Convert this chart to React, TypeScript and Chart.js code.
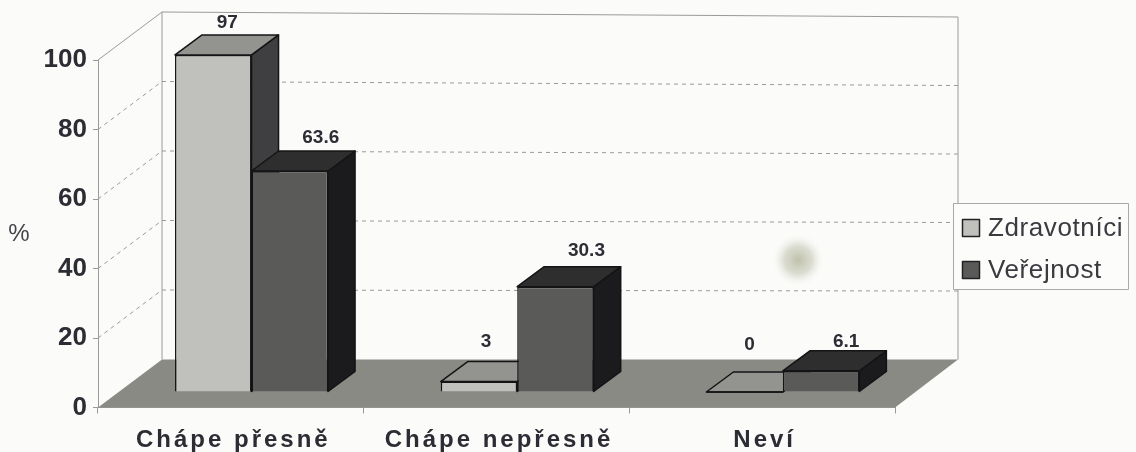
import React, { useEffect, useRef } from "react";
import { Chart, registerables } from "chart.js";

Chart.register(...registerables);

const categories = ["Chápe přesně", "Chápe nepřesně", "Neví"];
const zdravotnici = [97, 3, 0];
const verejnost = [63.6, 30.3, 6.1];
const seriesNames = ["Zdravotníci", "Veřejnost"];
const axisTitle = "%";

const PAGE_BG = "#fbfbf9";
const INK = "#2c2c34";
const WALL_LINE = "#9a9a98";
const FLOOR = "#8a8a85";
const EDGE = "#141416";

// Face shades for each series: front, top, side.
const shades = [
  { front: "#c0c0bc", top: "#93938f", side: "#3f3f42" },
  { front: "#5a5a58", top: "#2e2e2e", side: "#1b1b1d" },
];

// Depth of the plot box and of a single bar, and how far bars stand in from the front edge of the floor.
const BOX_DX = 64;
const BOX_DY = -48;
const BAR_DX = 27;
const BAR_DY = -20;
const BAR_SHIFT_X = 20.7;
const BAR_SHIFT_Y = -15.5;

// Per-label placement above each bar, relative to the bar's front-top centre.
const labelNudge = [
  [[14, -32], [7, -40], [5, -47]],
  [[31, -33], [31, -36], [25, -29]],
];

function poly(ctx: CanvasRenderingContext2D, pts: number[][], fill: string, stroke?: string) {
  ctx.beginPath();
  pts.forEach(([x, y], i) => (i ? ctx.lineTo(x, y) : ctx.moveTo(x, y)));
  ctx.closePath();
  ctx.fillStyle = fill;
  ctx.fill();
  if (stroke) {
    ctx.strokeStyle = stroke;
    ctx.lineWidth = 1.5;
    ctx.lineJoin = "round";
    ctx.stroke();
  }
}

function drawBox(chart: any) {
  const { ctx, chartArea: a, scales } = chart;
  const y = scales.y;
  const backL = a.left + BOX_DX;
  const backR = a.right + BOX_DX - 1;
  const tilt = (v: number) => (v / 100) * 5;

  ctx.save();
  ctx.strokeStyle = WALL_LINE;
  ctx.lineWidth = 1;
  ctx.setLineDash([]);
  ctx.beginPath();
  ctx.moveTo(a.left, y.getPixelForValue(100));
  ctx.lineTo(backL, y.getPixelForValue(100) + BOX_DY);
  ctx.lineTo(backR, y.getPixelForValue(100) + BOX_DY + tilt(100));
  ctx.lineTo(backR, y.getPixelForValue(0) + BOX_DY);
  ctx.moveTo(backL, y.getPixelForValue(100) + BOX_DY);
  ctx.lineTo(backL, y.getPixelForValue(0) + BOX_DY);
  ctx.stroke();

  ctx.setLineDash([4, 4]);
  for (const t of y.ticks) {
    if (t.value === 0 || t.value === 100) continue;
    const py = y.getPixelForValue(t.value);
    ctx.beginPath();
    ctx.moveTo(a.left, py);
    ctx.lineTo(backL, py + BOX_DY);
    ctx.lineTo(backR, py + BOX_DY + tilt(t.value));
    ctx.stroke();
  }
  ctx.setLineDash([]);

  const y0 = y.getPixelForValue(0);
  poly(ctx, [[a.left, y0], [backL, y0 + BOX_DY], [backR, y0 + BOX_DY], [a.right, y0]], FLOOR);
  ctx.restore();
}

function drawBars(chart: any) {
  const { ctx } = chart;
  chart.data.datasets.forEach((_: any, di: number) => {
    const meta = chart.getDatasetMeta(di);
    const shade = shades[di];
    meta.data.forEach((bar: any) => {
      const l = bar.x - bar.width / 2 + BAR_SHIFT_X;
      const r = bar.x + bar.width / 2 + BAR_SHIFT_X;
      const t = bar.y + BAR_SHIFT_Y;
      const b = bar.base + BAR_SHIFT_Y;
      poly(ctx, [[r, t], [r + BAR_DX, t + BAR_DY], [r + BAR_DX, b + BAR_DY], [r, b]], shade.side, EDGE);
      poly(ctx, [[l, t], [l + BAR_DX, t + BAR_DY], [r + BAR_DX, t + BAR_DY], [r, t]], shade.top, EDGE);
      if (b - t < 1) {
        ctx.strokeStyle = EDGE;
        ctx.lineWidth = 1.5;
        ctx.beginPath();
        ctx.moveTo(l, b);
        ctx.lineTo(r, b);
        ctx.stroke();
      }
    });
    // The front faces come from the bar controller, moved onto the raised floor position.
    ctx.save();
    ctx.translate(BAR_SHIFT_X, BAR_SHIFT_Y);
    meta.controller.draw();
    ctx.restore();
  });
}

function drawValueLabels(chart: any) {
  const { ctx } = chart;
  ctx.save();
  ctx.font = 'bold 19px "Liberation Sans"';
  ctx.fillStyle = INK;
  ctx.textAlign = "center";
  ctx.textBaseline = "middle";
  chart.data.datasets.forEach((ds: any, di: number) => {
    chart.getDatasetMeta(di).data.forEach((bar: any, i: number) => {
      const [nx, ny] = labelNudge[di][i];
      const px = bar.x + BAR_SHIFT_X + nx;
      const py = bar.y + BAR_SHIFT_Y + ny;
      ctx.fillText(String(ds.data[i]), px, py);
    });
  });
  ctx.restore();
}

function drawCategoryLabels(chart: any) {
  const { ctx, scales } = chart;
  const x = scales.x;
  ctx.save();
  ctx.font = 'bold 24px "Liberation Sans"';
  (ctx as any).letterSpacing = "3px";
  ctx.fillStyle = INK;
  ctx.textAlign = "center";
  ctx.textBaseline = "alphabetic";
  x.ticks.forEach((_: any, i: number) => {
    ctx.fillText(x.getLabelForValue(i), x.getPixelForTick(i) + 2.5, x.top + 39.5);
  });
  ctx.restore();
}

function drawLegend(chart: any) {
  const { ctx } = chart;
  ctx.save();
  ctx.fillStyle = "#fcfcfa";
  ctx.fillRect(953, 203, 176, 87);
  ctx.strokeStyle = "#a9a9a6";
  ctx.lineWidth = 1;
  ctx.strokeRect(953.5, 203.5, 175, 86);
  ctx.font = '26px "Liberation Sans"';
  (ctx as any).letterSpacing = "0.6px";
  ctx.textBaseline = "alphabetic";
  chart.data.datasets.forEach((ds: any, i: number) => {
    const top = 219 + i * 42;
    ctx.fillStyle = shades[i].front;
    ctx.fillRect(962.5, top + 0.5, 17, 17);
    ctx.strokeStyle = "#222226";
    ctx.lineWidth = 1.5;
    ctx.strokeRect(962.5, top + 0.5, 17, 17);
    ctx.fillStyle = "#3a3a40";
    ctx.fillText(ds.label, 988, top + 17);
  });
  ctx.restore();
}

function drawAxisTitle(chart: any) {
  const { ctx } = chart;
  ctx.save();
  ctx.font = '24px "Liberation Sans"';
  ctx.fillStyle = "#44444a";
  ctx.textAlign = "center";
  ctx.textBaseline = "middle";
  ctx.fillText(axisTitle, 19, 234);
  ctx.restore();
}

function drawSmudge(chart: any) {
  const { ctx } = chart;
  const g = ctx.createRadialGradient(798, 260, 1, 798, 260, 27);
  g.addColorStop(0, "rgba(190,192,170,0.95)");
  g.addColorStop(0.5, "rgba(198,200,182,0.6)");
  g.addColorStop(1, "rgba(251,251,249,0)");
  ctx.save();
  ctx.fillStyle = g;
  ctx.fillRect(768, 230, 60, 60);
  ctx.restore();
}

const boxBars = {
  id: "boxBars",
  beforeDraw(chart: any) {
    chart.ctx.save();
    chart.ctx.fillStyle = PAGE_BG;
    chart.ctx.fillRect(0, 0, chart.width, chart.height);
    chart.ctx.restore();
  },
  beforeDatasetsDraw(chart: any) {
    drawBox(chart);
    drawSmudge(chart);
    drawBars(chart);
    drawValueLabels(chart);
    drawCategoryLabels(chart);
    drawAxisTitle(chart);
    drawLegend(chart);
    return false;
  },
};

export default function App() {
  const ref = useRef<HTMLCanvasElement>(null);

  useEffect(() => {
    const chart = new Chart(ref.current as HTMLCanvasElement, {
      type: "bar",
      data: {
        labels: categories,
        datasets: [
          {
            label: seriesNames[0],
            data: zdravotnici,
            backgroundColor: shades[0].front,
            borderColor: EDGE,
            borderWidth: 1.5,
            categoryPercentage: 0.576,
            barPercentage: 1,
          },
          {
            label: seriesNames[1],
            data: verejnost,
            backgroundColor: shades[1].front,
            borderColor: EDGE,
            borderWidth: 1.5,
            categoryPercentage: 0.576,
            barPercentage: 1,
          },
        ],
      },
      options: {
        responsive: false,
        animation: false,
        layout: { padding: { top: 60, right: 241, left: 0, bottom: 0 } },
        plugins: {
          legend: { display: false },
          tooltip: { enabled: false },
          title: { display: false },
        },
        scales: {
          x: {
            afterFit: (s: any) => {
              s.height = 44.5;
            },
            border: { color: WALL_LINE },
            grid: { drawOnChartArea: false, drawTicks: true, tickLength: 6, color: WALL_LINE },
            ticks: { display: false },
          },
          y: {
            min: 0,
            max: 100,
            afterFit: (s: any) => {
              s.width = 98;
            },
            border: { color: WALL_LINE },
            grid: { drawOnChartArea: false, drawTicks: true, tickLength: 5, color: WALL_LINE },
            ticks: {
              stepSize: 20,
              padding: 6,
              color: INK,
              font: { family: '"Liberation Sans"', size: 26, weight: "bold" },
            },
          },
        },
      },
      plugins: [boxBars],
    } as any);
    return () => chart.destroy();
  }, []);

  return (
    <div style={{ position: "absolute", left: 0, top: 0, width: 1136, height: 452, background: PAGE_BG }}>
      <canvas ref={ref} width={1136} height={452} style={{ display: "block" }} />
    </div>
  );
}
